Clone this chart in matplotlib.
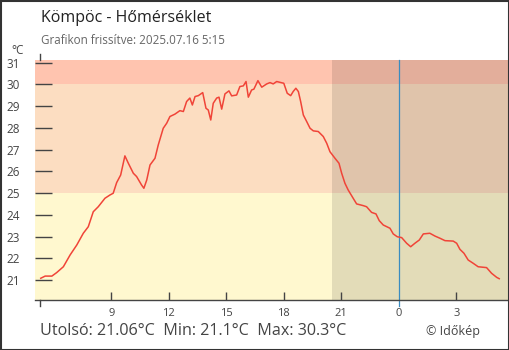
import matplotlib
matplotlib.use("Agg")
import matplotlib.pyplot as plt
from matplotlib.patches import Rectangle

plt.rcParams['font.family'] = ['Open Sans', 'DejaVu Sans']

# hours since 2025.07.15 00:00
hours = [5.32, 5.55, 5.9, 6.15, 6.5, 6.85, 7.2, 7.54, 7.8, 8.06, 8.32, 8.67, 8.93, 9.1,
         9.28, 9.49, 9.71, 9.89, 10.15, 10.32, 10.58, 10.7, 10.85, 11.02, 11.28, 11.45,
         11.71, 11.89, 12.06, 12.32, 12.58, 12.76, 12.93, 13.1, 13.23, 13.37, 13.54, 13.77,
         13.94, 14.06, 14.19, 14.32, 14.5, 14.62, 14.76, 14.93, 15.14, 15.28, 15.54, 15.71,
         15.89, 16.03, 16.15, 16.32, 16.44, 16.65, 16.85, 17.11, 17.28, 17.45, 17.63, 18.0,
         18.18, 18.36, 18.49, 18.63, 18.76, 18.88, 19.02, 19.2, 19.37, 19.54, 19.8, 20.06,
         20.24, 20.41, 20.67, 20.88, 21.02, 21.19, 21.36, 21.62, 21.8, 22.15, 22.32, 22.58,
         22.81, 22.98, 23.19, 23.54, 23.71, 23.92, 24.15, 24.41, 24.62, 24.84, 25.07, 25.28,
         25.62, 25.89, 26.15, 26.41, 26.84, 27.02, 27.19, 27.4, 27.62, 27.88, 28.14, 28.58,
         28.84, 29.11, 29.24]
temps = [21.08, 21.18, 21.18, 21.34, 21.61, 22.15, 22.61, 23.15, 23.45, 24.14, 24.37, 24.76, 24.91, 24.99,
         25.48, 25.83, 26.71, 26.37, 25.91, 25.76, 25.37, 25.22, 25.6, 26.29, 26.6, 27.21,
         27.98, 28.21, 28.52, 28.63, 28.79, 28.75, 29.21, 29.37, 29.05, 29.44, 29.48, 29.62,
         28.9, 28.82, 28.36, 29.13, 29.37, 29.41, 28.86, 29.56, 29.7, 29.47, 29.51, 29.9,
         29.93, 30.13, 29.41, 29.74, 29.78, 30.17, 29.87, 30.02, 30.08, 30.02, 30.13, 30.05,
         29.59, 29.48, 29.67, 29.82, 29.67, 29.21, 28.59, 28.28, 27.98, 27.86, 27.83, 27.6,
         27.29, 26.9, 26.6, 26.37, 25.91, 25.45, 25.14, 24.76, 24.5, 24.42, 24.37, 24.11,
         24.04, 23.73, 23.53, 23.38, 23.12, 22.99, 22.95, 22.69, 22.53, 22.69, 22.84, 23.12,
         23.15, 23.02, 22.92, 22.81, 22.79, 22.69, 22.41, 22.23, 21.92, 21.77, 21.61, 21.57,
         21.31, 21.12, 21.06]

xticks = [9, 12, 15, 18, 21, 24, 27]
xlabels = ['9', '12', '15', '18', '21', '0', '3']
yticks = list(range(21, 32))
bands = [(20.0, 25, '#fff8cf'), (25, 30, '#fcddc1'), (30, 32, '#ffc4af')]
night_start = 20.5
midnight = 24
start = 5.28


def main():
    fig = plt.figure(figsize=(5.1, 3.5), dpi=100)
    ax = fig.add_axes([35/510, 50/350, 474/510, 240/350])
    ax.set_xlim(5.02, 29.75)
    ax.set_ylim(20.08, 31.12)

    for lo, hi, c in bands:
        ax.axhspan(lo, hi, color=c, lw=0, zorder=0)
    ax.axvspan(night_start, 30, color='black', alpha=0.11, lw=0, zorder=1)

    ax.plot(hours, temps, color='#f04438', lw=1.1, zorder=3)

    # midnight marker, goes below the axis
    ax.plot([midnight, midnight], [20.08 - 6/21.73, 31.12], color='#3a8cc0', lw=0.9,
            clip_on=False, zorder=2)
    # start marker
    ax.plot([start, start], [20.08 - 6/21.73, 20.08], color='#444444', lw=1, clip_on=False)
    ax.plot([start, start], [31.12, 31.12 + 6/21.73], color='#444444', lw=1, clip_on=False)

    for s in ['top', 'right', 'left']:
        ax.spines[s].set_visible(False)
    ax.spines['bottom'].set_color('#444444')
    ax.spines['bottom'].set_linewidth(1)

    ax.set_yticks(yticks)
    ax.tick_params(axis='y', direction='in', length=12, width=1, color='#444444',
                   labelsize=8.5, labelcolor='#444444', pad=11)
    ax.set_xticks(xticks)
    ax.set_xticklabels(xlabels)
    ax.tick_params(axis='x', direction='in', length=6, width=1, color='#444444',
                   labelsize=8, labelcolor='#444444', pad=6)
    for t in ax.xaxis.get_major_ticks():
        if t.get_loc() == midnight:
            t.tick1line.set_visible(False)

    fig.text(41/510, 1 - 18/350, 'Kömpöc - Hőmérséklet', fontsize=11.5, color='#222222',
             va='center', ha='left')
    fig.text(41/510, 1 - 41/350, 'Grafikon frissítve: 2025.07.16 5:15', fontsize=8.4,
             color='#666666', va='center', ha='left')
    fig.text(18/510, 1 - 51/350, '°C', fontsize=8.5, color='#444444', va='center', ha='center')
    fig.text(40/510, 1 - 331/350, 'Utolsó: 21.06°C  Min: 21.1°C  Max: 30.3°C', fontsize=11.6,
             color='#444444', va='center', ha='left')
    fig.text(453/510, 1 - 331/350, '© Időkép', fontsize=9, color='#444444', va='center',
             ha='center')

    fig.patches.append(Rectangle((0.5/510, 0.5/350), 509/510, 349/350, fill=False,
                                 ec='#333333', lw=1.5, transform=fig.transFigure))

    fig.savefig('out.png', dpi=100)
    plt.close(fig)


if __name__ == "__main__":
    main()
